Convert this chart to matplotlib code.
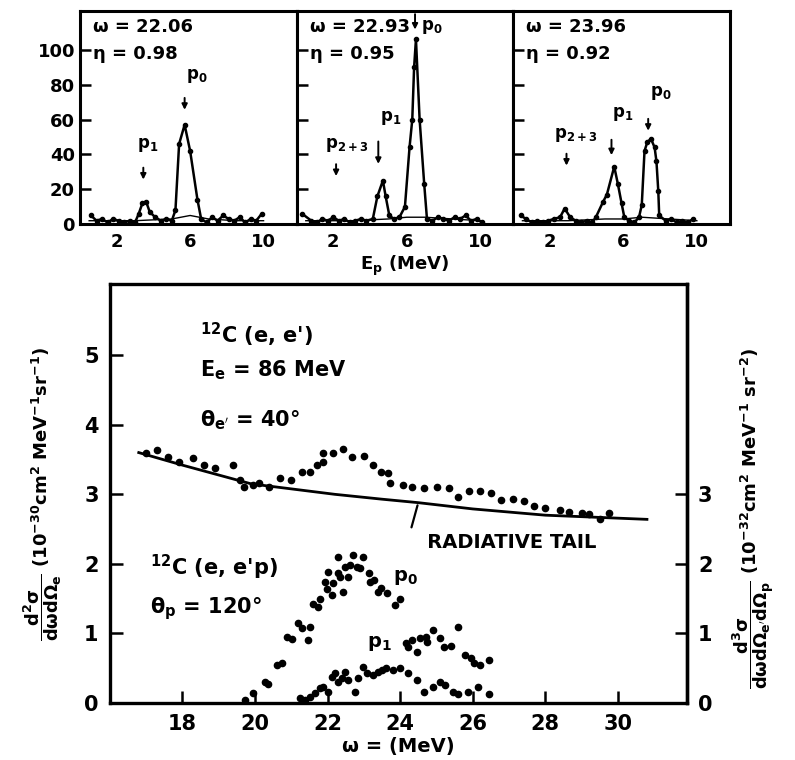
import numpy as np
import matplotlib
matplotlib.use("Agg")
from matplotlib import pyplot as plt

plt.rcParams["font.family"] = ["DejaVu Sans"]
plt.rcParams["font.weight"] = "bold"
plt.rcParams["axes.labelweight"] = "bold"
plt.rcParams["mathtext.default"] = "bf"

# --- top panels: proton spectra (counts vs Ep) ---
panel_omega = ["22.06", "22.93", "23.96"]
panel_eta = ["0.98", "0.95", "0.92"]

ep_1 = [0.6, 0.9, 1.2, 1.5, 1.8, 2.1, 2.4, 2.7, 3.0, 3.2, 3.4, 3.6, 3.8, 4.1, 4.4,
        4.7, 5.0, 5.2, 5.4, 5.7, 6.0, 6.4, 6.6, 6.9, 7.2, 7.5, 7.8, 8.1, 8.4, 8.7,
        9.0, 9.3, 9.6, 9.9]
cnt_1 = [5, 2, 3, 1, 3, 2, 1, 2, 1, 6, 12, 13, 7, 4, 2, 3, 2, 8, 46, 57, 42, 14, 3,
         1, 4, 2, 5, 3, 2, 4, 1, 3, 2, 6]
ep_2 = [0.3, 0.8, 1.1, 1.4, 1.7, 2.0, 2.3, 2.6, 2.9, 3.2, 3.5, 3.8, 4.15, 4.4, 4.7,
        4.85, 5.05, 5.3, 5.6, 5.9, 6.15, 6.3, 6.4, 6.5, 6.7, 6.95, 7.1, 7.4, 7.7,
        8.0, 8.3, 8.6, 8.9, 9.2, 9.5, 9.8, 10.1]
cnt_2 = [6, 2, 1, 3, 2, 4, 2, 3, 1, 2, 3, 2, 3, 16, 25, 16, 5, 3, 4, 10, 44, 60, 90,
         106, 60, 23, 3, 2, 4, 3, 2, 4, 3, 5, 2, 3, 1]
ep_3 = [0.4, 0.7, 1.0, 1.3, 1.6, 1.9, 2.2, 2.55, 2.8, 3.1, 3.4, 3.7, 4.0, 4.3, 4.5,
        4.9, 5.1, 5.5, 5.7, 5.9, 6.05, 6.3, 6.6, 6.85, 7.0, 7.15, 7.3, 7.5, 7.7,
        7.8, 7.9, 7.95, 8.3, 8.6, 8.9, 9.2, 9.5, 9.8]
cnt_3 = [5, 3, 1, 2, 1, 2, 3, 4, 9, 4, 2, 1, 2, 1, 4, 13, 17, 33, 23, 12, 4, 2, 1, 4,
         11, 42, 47, 49, 44, 36, 19, 5, 2, 3, 1, 2, 1, 3]

bg_ep = [0.5, 3.0, 5.0, 6.0, 7.0, 8.5, 10.0]
bg_1 = [2, 2, 3, 5, 3, 2, 2]
bg_2 = [2, 2, 3, 4, 4, 3, 2]
bg_3 = [2, 2, 3, 3, 4, 3, 2]

# peak markers: (label, Ep, arrow top, arrow bottom, label x, label y)
peaks_1 = [("p$_1$", 3.45, 34, 24, 3.1, 40), ("p$_0$", 5.7, 74, 64, 5.75, 80)]
peaks_2 = [("p$_{2+3}$", 2.15, 36, 26, 1.55, 40), ("p$_1$", 4.45, 49, 33, 4.55, 56),
           ("p$_0$", 6.45, 122, 110, 6.75, 108)]
peaks_3 = [("p$_{2+3}$", 2.9, 42, 32, 2.2, 46), ("p$_1$", 5.35, 50, 38, 5.4, 58),
           ("p$_0$", 7.35, 62, 52, 7.45, 70)]

# --- main panel: omega spectra ---
omega_ee = [17.0, 17.3, 17.6, 17.9, 18.3, 18.6, 18.9, 19.4, 19.6, 19.7, 19.95, 20.1,
            20.4, 20.7, 21.0, 21.3, 21.52, 21.7, 21.88, 21.88, 22.16, 22.44, 22.68,
            23.0, 23.24, 23.46, 23.68, 23.73, 24.07, 24.34, 24.65, 25.03, 25.34,
            25.6, 25.9, 26.2, 26.5, 26.77, 27.1, 27.4, 27.7, 28.0, 28.4, 28.65,
            29.0, 29.2, 29.5, 29.75]
sigma_ee = [3.6, 3.64, 3.53, 3.47, 3.52, 3.42, 3.38, 3.42, 3.21, 3.1, 3.14, 3.16,
            3.1, 3.23, 3.21, 3.32, 3.32, 3.42, 3.46, 3.59, 3.59, 3.65, 3.53, 3.55,
            3.42, 3.32, 3.3, 3.16, 3.13, 3.1, 3.09, 3.1, 3.09, 2.96, 3.05, 3.05,
            3.02, 2.92, 2.93, 2.9, 2.83, 2.8, 2.77, 2.74, 2.73, 2.71, 2.64, 2.73]

omega_tail = [16.8, 18.0, 19.9, 22.2, 23.5, 24.5, 26.0, 28.0, 30.8]
sigma_tail = [3.6, 3.42, 3.15, 3.0, 2.93, 2.88, 2.79, 2.7, 2.64]

omega_p0 = [19.73, 19.95, 20.28, 20.36, 20.6, 20.75, 20.89, 21.03, 21.2, 21.3, 21.47,
            21.52, 21.6, 21.74, 21.8, 21.94, 22.02, 21.99, 22.13, 22.16, 22.3, 22.35,
            22.44, 22.49, 22.3, 22.57, 22.63, 22.71, 22.82, 22.9, 22.99, 23.13,
            23.18, 23.27, 23.4, 23.46, 23.65, 23.87, 24.0, 24.15, 24.23, 24.33,
            24.47, 24.56, 24.7, 24.75, 24.9, 25.1, 25.2, 25.4, 25.6, 25.8, 25.95,
            26.03, 26.2, 26.45]
sigma_p0 = [0.04, 0.14, 0.3, 0.27, 0.55, 0.58, 0.95, 0.92, 1.15, 1.08, 0.9, 1.09,
            1.43, 1.38, 1.49, 1.74, 1.88, 1.64, 1.55, 1.72, 1.87, 1.81, 1.6, 1.95,
            2.1, 1.81, 1.98, 2.13, 1.95, 1.94, 2.1, 1.87, 1.74, 1.77, 1.6, 1.65,
            1.58, 1.41, 1.49, 0.86, 0.8, 0.9, 0.73, 0.93, 0.95, 0.88, 1.05, 0.93,
            0.8, 0.82, 1.09, 0.69, 0.65, 0.57, 0.55, 0.62]

omega_p1 = [21.25, 21.39, 21.52, 21.66, 21.8, 21.88, 22.02, 22.13, 22.22, 22.3, 22.4,
            22.49, 22.57, 22.77, 22.85, 22.99, 23.1, 23.24, 23.38, 23.5, 23.6, 23.8,
            24.0, 24.23, 24.47, 24.65, 24.9, 25.1, 25.25, 25.45, 25.6, 25.86, 26.14,
            26.44]
sigma_p1 = [0.07, 0.04, 0.09, 0.14, 0.21, 0.23, 0.16, 0.37, 0.43, 0.3, 0.36, 0.45,
            0.33, 0.16, 0.36, 0.52, 0.43, 0.4, 0.45, 0.47, 0.5, 0.47, 0.5, 0.43,
            0.33, 0.16, 0.23, 0.3, 0.26, 0.16, 0.13, 0.16, 0.23, 0.13]

left_ticks = [0, 1, 2, 3, 4, 5]
right_ticks = [0, 1, 2, 3]
omega_ticks = [18, 20, 22, 24, 26, 28, 30]

fig = plt.figure(figsize=(7.95, 7.6), dpi=100)

# top row
spectra = [(ep_1, cnt_1, bg_1, peaks_1), (ep_2, cnt_2, bg_2, peaks_2),
           (ep_3, cnt_3, bg_3, peaks_3)]
pw = 0.2725
for i, (ep, cnt, bg, peaks) in enumerate(spectra):
    ax = fig.add_axes([0.1006 + i * pw, 0.705, pw, 0.28])
    ax.plot(ep, cnt, "-", color="k", lw=1.8, marker="o", ms=3)
    ax.plot(bg_ep, bg, "-", color="k", lw=1.0)
    ax.set_xlim(0, 11.8)
    ax.set_ylim(0, 122)
    ax.set_xticks([2, 6, 10])
    ax.set_yticks([0, 20, 40, 60, 80, 100])
    ax.tick_params(axis="x", length=0, labelsize=13, pad=6)
    ax.tick_params(axis="y", direction="in", length=8, width=1.8, labelsize=13)
    if i > 0:
        ax.set_yticklabels([])
    for s in ax.spines.values():
        s.set_linewidth(2.2)
    ax.text(0.06, 0.925, "ω = " + panel_omega[i], transform=ax.transAxes,
            fontsize=13, va="center")
    ax.text(0.06, 0.80, "η = " + panel_eta[i], transform=ax.transAxes,
            fontsize=13, va="center")
    for lab, x, ytop, ybot, lx, ly in peaks:
        ax.annotate("", xy=(x, ybot), xytext=(x, ytop),
                    arrowprops=dict(arrowstyle="-|>", color="k", lw=1.4,
                                    mutation_scale=8))
        ax.text(lx, ly, lab, fontsize=12, va="bottom")
    if i == 1:
        ax.set_xlabel("E$_p$ (MeV)", fontsize=13, labelpad=2)

# main panel
ax = fig.add_axes([0.138, 0.075, 0.726, 0.551])
ax.plot(omega_tail, sigma_tail, "-", color="k", lw=2.0)
ax.plot(omega_ee, sigma_ee, "o", color="k", ms=4.5)
ax.plot(omega_p0, sigma_p0, "o", color="k", ms=4.5)
ax.plot(omega_p1, sigma_p1, "o", color="k", ms=4.5)
ax.set_xlim(16, 31.9)
ax.set_ylim(0, 6.02)
ax.set_xticks(omega_ticks)
ax.set_yticks(left_ticks)
ax.tick_params(direction="in", length=9, width=1.8, labelsize=15, pad=8)
for s in ax.spines.values():
    s.set_linewidth(2.4)
ax.set_xlabel("ω = (MeV)", fontsize=14, labelpad=2)
ax.set_ylabel(r"$\dfrac{d^2\sigma}{d\omega d\Omega_e}$ (10$^{-30}$cm$^2$ MeV$^{-1}$sr$^{-1}$)",
              fontsize=13)
ax.yaxis.set_label_coords(-0.08, 0.5)

ax2 = ax.twinx()
ax2.set_ylim(ax.get_ylim())
ax2.set_yticks(right_ticks)
ax2.tick_params(direction="in", length=9, width=1.8, labelsize=15, pad=8)
ax2.spines["right"].set_linewidth(2.4)
ax2.set_ylabel(r"$\dfrac{d^3\sigma}{d\omega d\Omega_{e'} d\Omega_p}$ (10$^{-32}$cm$^2$ MeV$^{-1}$ sr$^{-2}$)",
               fontsize=13)
ax2.yaxis.set_label_coords(1.075, 0.44)

ax.text(18.5, 5.29, "$^{12}$C (e, e')", fontsize=15, va="center")
ax.text(18.5, 4.78, "E$_e$ = 86 MeV", fontsize=15, va="center")
ax.text(18.5, 4.07, "θ$_{e'}$ = 40°", fontsize=15, va="center")
ax.text(17.1, 1.95, "$^{12}$C (e, e'p)", fontsize=15, va="center")
ax.text(17.1, 1.36, "θ$_p$ = 120°", fontsize=15, va="center")
ax.text(23.8, 1.81, "p$_0$", fontsize=14, va="center")
ax.text(23.1, 0.86, "p$_1$", fontsize=14, va="center")
ax.annotate("   RADIATIVE TAIL", xy=(24.5, 2.88), xytext=(24.2, 2.31),
            fontsize=14, va="center", ha="left",
            arrowprops=dict(arrowstyle="-", color="k", lw=1.6, relpos=(0, 0.5)))

fig.savefig("out.png", dpi=100)
